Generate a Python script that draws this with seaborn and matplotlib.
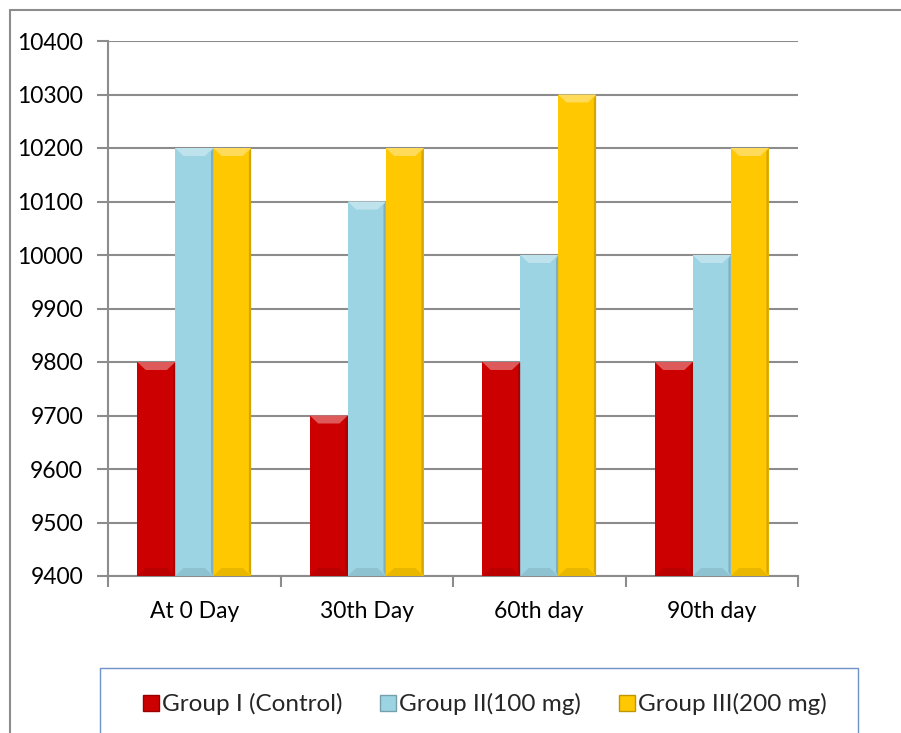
import matplotlib
matplotlib.use("Agg")
import matplotlib.pyplot as plt
import matplotlib.colors as mcolors
from matplotlib.patches import Polygon
from matplotlib.lines import Line2D
import pandas as pd
import seaborn as sns

# Chart data
days = ["At 0 Day", "30th Day", "60th day", "90th day"]
groups = ["Group I (Control)", "Group II(100 mg)", "Group III(200 mg)"]
group_i = [9800, 9700, 9800, 9800]
group_ii = [10200, 10100, 10000, 10000]
group_iii = [10200, 10200, 10300, 10200]
y_ticks = [9400, 9500, 9600, 9700, 9800, 9900, 10000, 10100, 10200, 10300, 10400]

colors = ["#CC0000", "#9CD4E4", "#FFC800"]
base = 9400

df = pd.DataFrame({
    "day": days * 3,
    "group": [groups[0]] * 4 + [groups[1]] * 4 + [groups[2]] * 4,
    "value": [v - base for v in group_i + group_ii + group_iii],
})

sns.set_theme(style="white")
plt.rcParams["font.family"] = ["Lato", "DejaVu Sans"]

W, H = 901, 733
fig = plt.figure(figsize=(W / 100, H / 100), dpi=100)
ax = fig.add_axes([108 / W, 157 / H, 690 / W, 535 / H])

sns.barplot(data=df, x="day", y="value", hue="group", order=days,
            hue_order=groups, palette=colors, width=0.66, gap=0,
            saturation=1, legend=False, ax=ax, bottom=base,
            edgecolor="none", linewidth=0, zorder=3)

ax.set_ylim(9400, 10400)
ax.set_xlim(-0.5, len(days) - 0.5)
ax.set_yticks(y_ticks)
ax.set_yticklabels([str(t) for t in y_ticks], fontsize=16.5, color="black")
ax.set_xticks(range(len(days)))
ax.set_xticklabels(days, fontsize=16.5, color="black")
ax.set_xlabel("")
ax.set_ylabel("")

grid_c = "#8C8C8C"
ax.yaxis.grid(True, color=grid_c, linewidth=1.5, zorder=0)
ax.set_axisbelow(True)
for s in ["top", "right"]:
    ax.spines[s].set_visible(False)
for s in ["left", "bottom"]:
    ax.spines[s].set_color(grid_c)
    ax.spines[s].set_linewidth(1.5)
ax.tick_params(axis="y", length=8, width=1.5, color=grid_c, pad=10, left=True)
ax.tick_params(axis="x", which="major", length=0, pad=18)
ax.set_xticks([i - 0.5 for i in range(len(days) + 1)], minor=True)
ax.tick_params(axis="x", which="minor", length=8, width=1.5, color=grid_c,
               bottom=True, direction="out")

# Bevelled look on every bar, derived from each bar's own geometry
px_per_unit_y = 535 / 1000.0
bev_y = 8 / px_per_unit_y
for patch in list(ax.patches):
    x0 = patch.get_x()
    w = patch.get_width()
    y0 = patch.get_y()
    h = patch.get_height()
    if h <= 0:
        continue
    rgb = mcolors.to_rgb(patch.get_facecolor())
    light = tuple(min(1, c + (1 - c) * 0.35) for c in rgb)
    dark = tuple(c * 0.72 for c in rgb)
    inset = w * 0.22
    top = y0 + h
    # top bevel
    ax.add_patch(Polygon([(x0, top), (x0 + w, top), (x0 + w - inset, top - bev_y),
                          (x0 + inset, top - bev_y)], closed=True,
                         facecolor=light, edgecolor="none", zorder=4))
    # right side shadow
    ax.add_patch(Polygon([(x0 + w, top), (x0 + w, y0), (x0 + w - w * 0.06, y0 + bev_y * 0.5),
                          (x0 + w - w * 0.06, top - bev_y * 0.5)], closed=True,
                         facecolor=dark, edgecolor="none", alpha=0.6, zorder=4))
    # bottom bevel
    ax.add_patch(Polygon([(x0, y0), (x0 + w, y0), (x0 + w - inset, y0 + bev_y),
                          (x0 + inset, y0 + bev_y)], closed=True,
                         facecolor=dark, edgecolor="none", alpha=0.3, zorder=4))

# Outer chart border: left and top edges (the rest runs off the image)
bx, by = 9.5 / W, 1 - 9.5 / H
fig.add_artist(Line2D([bx, bx], [-0.01, by], transform=fig.transFigure,
                      color="#8C8C8C", linewidth=1.5))
fig.add_artist(Line2D([bx, 1.01], [by, by], transform=fig.transFigure,
                      color="#8C8C8C", linewidth=1.5))

# Legend box
lx0, lx1, ly = 100 / W, 858 / W, (H - 668) / H
box_c = "#6D93C8"
fig.add_artist(Line2D([lx0, lx0, lx1, lx1], [-0.01, ly, ly, -0.01],
                      transform=fig.transFigure, color=box_c, linewidth=1.0))
handles = [Line2D([0], [0], marker="s", linestyle="none", markersize=11,
                  markerfacecolor=c,
                  markeredgecolor=tuple(v * 0.75 for v in mcolors.to_rgb(c)))
           for c in colors]
fig.legend(handles, groups, loc="center", bbox_to_anchor=(484 / W, (H - 704) / H),
           ncol=3, frameon=False, fontsize=17.5, handletextpad=0.05,
           columnspacing=1.5, handlelength=0.8)

fig.savefig("out.png", dpi=100, facecolor="white")
